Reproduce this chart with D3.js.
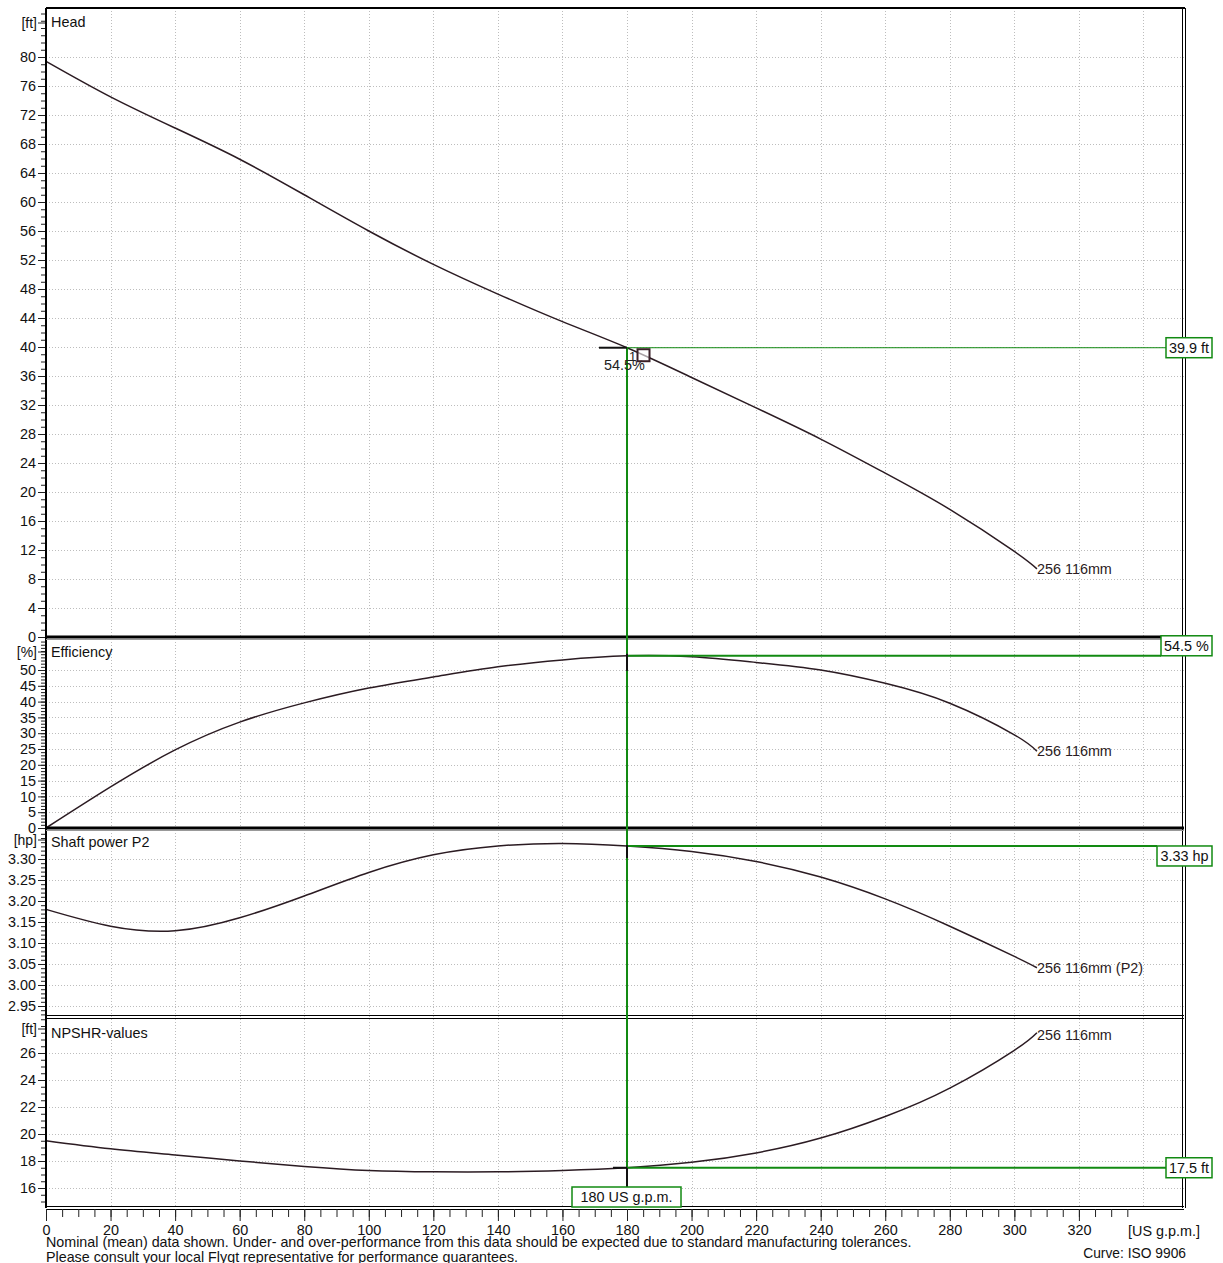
<!DOCTYPE html>
<html><head><meta charset="utf-8">
<script src="https://cdn.jsdelivr.net/npm/d3@7"></script>
<style>
body{margin:0;background:#fff;}
svg text{font-family:"Liberation Sans",Arial,sans-serif;}
</style></head>
<body>
<svg id="c" width="1223" height="1263"></svg>
<script>
// ---- data ----
const flow  = [0,20,40,60,80,100,120,140,160,180,200,220,240,260,280,300,307];
const head  = [79.4,74.5,70.2,65.9,61.0,56.0,51.4,47.3,43.5,39.9,35.8,31.6,27.3,22.6,17.6,11.8,9.4];
const eff   = [0,13,24.7,33.5,39.6,44.3,47.8,51,53.2,54.5,54.2,52.4,50,45.8,39.5,29.5,24.3];
const power = [3.18,3.140,3.129,3.160,3.212,3.268,3.310,3.331,3.337,3.331,3.318,3.294,3.257,3.205,3.140,3.068,3.041];
const npshr = [19.5,18.9,18.45,18.0,17.6,17.3,17.2,17.2,17.3,17.5,17.9,18.6,19.7,21.3,23.4,26.2,27.5];
const xTicks = [0,20,40,60,80,100,120,140,160,180,200,220,240,260,280,300,320];
const headTicks = d3.range(0,81,4);
const effTicks = d3.range(0,51,5);
const powerTicks = [2.95,3.00,3.05,3.10,3.15,3.20,3.25,3.30];
const npshrTicks = [16,18,20,22,24,26];
const dutyFlow = 180;
const curveName = "256 116mm";

const svg = d3.select("#c");
const W = 1223, H = 1263;
svg.append("rect").attr("width",W).attr("height",H).attr("fill","#fff");

const L = 46, R = 1184;
const x = d3.scaleLinear().domain([0,320]).range([46,1078.9]);
const CURVE = "#2b1b22", GREEN = "#128a12", GRID = "#bdbdbd";

const panels = [
  {name:"Head", unit:"[ft]", top:8, bottom:637, y:d3.scaleLinear().domain([0,40]).range([637,347]),
   data:head, ticks:headTicks, minor:d3.range(0,87,1), fmt:d=>d, unitY:28, titleY:27,
   label:curveName, box:v=>v.toFixed(1)+" ft"},
  {name:"Efficiency", unit:"[%]", top:639, bottom:828, y:d3.scaleLinear().domain([0,50]).range([828,670]),
   data:eff, ticks:effTicks, minor:d3.range(0,60,1), fmt:d=>d, unitY:657, titleY:657,
   label:curveName, box:v=>v.toFixed(1)+" %"},
  {name:"Shaft power P2", unit:"[hp]", top:830, bottom:1017, y:d3.scaleLinear().domain([2.95,3.30]).range([1006,859]),
   data:power, ticks:powerTicks, minor:d3.range(293,337,1).map(v=>v/100), fmt:d=>d.toFixed(2), unitY:845, titleY:847,
   label:curveName+" (P2)", box:v=>v.toFixed(2)+" hp"},
  {name:"NPSHR-values", unit:"[ft]", top:1019, bottom:1208, y:d3.scaleLinear().domain([16,26]).range([1188,1053]),
   data:npshr, ticks:npshrTicks, minor:d3.range(29,58,1).map(v=>v/2), fmt:d=>d, unitY:1034, titleY:1038,
   label:curveName, box:v=>v.toFixed(1)+" ft"}
];

const gridX = d3.range(0,341,20);
const line = d3.line().curve(d3.curveNatural);
const di = flow.indexOf(dutyFlow);

panels.forEach(p=>{
  const g = svg.append("g");
  g.selectAll(".gx").data(gridX.filter(v=>v>0)).join("line")
    .attr("x1",d=>Math.round(x(d))+0.5).attr("x2",d=>Math.round(x(d))+0.5).attr("y1",p.top).attr("y2",p.bottom)
    .attr("stroke",GRID).attr("stroke-dasharray","1,2").attr("stroke-width",1);
  g.selectAll(".gy").data(p.ticks).join("line")
    .attr("x1",L).attr("x2",R).attr("y1",d=>Math.round(p.y(d))+0.5).attr("y2",d=>Math.round(p.y(d))+0.5)
    .attr("stroke",GRID).attr("stroke-dasharray","1,2").attr("stroke-width",1);
  const minorAx = d3.axisLeft(p.y).tickValues(p.minor.filter(v=>p.y(v)>=p.top && p.y(v)<=p.bottom)).tickSize(5).tickFormat("");
  const ga = svg.append("g").attr("transform",`translate(${L},0)`).call(minorAx);
  ga.select(".domain").remove();
  ga.selectAll("line").attr("stroke","#222");
  const majorAx = d3.axisLeft(p.y).tickValues(p.ticks).tickSize(8).tickPadding(2).tickFormat(p.fmt);
  const gm = svg.append("g").attr("transform",`translate(${L},0)`).call(majorAx);
  gm.select(".domain").remove();
  gm.selectAll("line").attr("stroke","#222");
  gm.selectAll("text").attr("font-size",14.4).attr("fill","#111").attr("font-family","Liberation Sans, Arial, sans-serif");
  svg.append("text").attr("x",37).attr("y",p.unitY).attr("text-anchor","end").attr("font-size",14).attr("fill","#111").text(p.unit);
  svg.append("line").attr("x1",38).attr("x2",46).attr("y1",p.unitY-5).attr("y2",p.unitY-5).attr("stroke","#222");
  svg.append("text").attr("x",51).attr("y",p.titleY).attr("font-size",14.4).attr("fill","#111").text(p.name);
  const pts = flow.map((f,i)=>[x(f),p.y(p.data[i])]);
  svg.append("path").attr("d",line(pts)).attr("fill","none").attr("stroke",CURVE).attr("stroke-width",1.5);
  const last = pts[pts.length-1];
  svg.append("text").attr("x",last[0]).attr("y",last[1]+(p.name==="NPSHR-values"?7:5)).attr("font-size",14.4).attr("fill","#2b1b22").text(p.label);
});

// frames
svg.append("line").attr("x1",L).attr("x2",L).attr("y1",8).attr("y2",1208).attr("stroke","#000").attr("stroke-width",2);
svg.append("line").attr("x1",L).attr("x2",R+1).attr("y1",8).attr("y2",8).attr("stroke","#000").attr("stroke-width",2);
svg.append("line").attr("x1",R-1.5).attr("x2",R-1.5).attr("y1",8).attr("y2",1208).attr("stroke","#000").attr("stroke-width",1);
svg.append("line").attr("x1",R+1.5).attr("x2",R+1.5).attr("y1",8).attr("y2",1208).attr("stroke","#000").attr("stroke-width",1);
[637,828].forEach(yv=>{
  svg.append("line").attr("x1",L).attr("x2",R).attr("y1",yv).attr("y2",yv).attr("stroke","#000").attr("stroke-width",3);
  svg.append("line").attr("x1",L).attr("x2",R).attr("y1",yv+2.5).attr("y2",yv+2.5).attr("stroke","#999").attr("stroke-width",1);
});
[1017,1208].forEach(yv=>{
  svg.append("line").attr("x1",L).attr("x2",R).attr("y1",yv-1.5).attr("y2",yv-1.5).attr("stroke","#000").attr("stroke-width",1.2);
  svg.append("line").attr("x1",L).attr("x2",R).attr("y1",yv+1.5).attr("y2",yv+1.5).attr("stroke","#000").attr("stroke-width",1.2);
});

// x axis
const xMinor = d3.axisBottom(x).tickValues(d3.range(0,336,5)).tickSize(8).tickFormat("");
const gxm = svg.append("g").attr("transform","translate(0,1209)").call(xMinor);
gxm.select(".domain").remove(); gxm.selectAll("line").attr("stroke","#222");
const xMajor = d3.axisBottom(x).tickValues(xTicks).tickSize(12).tickPadding(4).tickFormat(d=>d);
const gxM = svg.append("g").attr("transform","translate(0,1209)").call(xMajor);
gxM.select(".domain").remove(); gxM.selectAll("line").attr("stroke","#222");
gxM.selectAll("text").attr("font-size",14.4).attr("fill","#111").attr("font-family","Liberation Sans, Arial, sans-serif");
svg.append("text").attr("x",1128).attr("y",1236).attr("font-size",14.4).attr("fill","#111").text("[US g.p.m.]");

// duty point
const xd = x(dutyFlow);
const yH = panels[0].y(head[di]), yE = panels[1].y(eff[di]), yP = panels[2].y(power[di]), yN = panels[3].y(npshr[di]);
svg.append("line").attr("x1",xd).attr("x2",xd).attr("y1",yH).attr("y2",1187).attr("stroke",GREEN).attr("stroke-width",2);
svg.append("line").attr("x1",xd).attr("x2",1166).attr("y1",yH).attr("y2",yH).attr("stroke",GREEN).attr("stroke-width",1);
svg.append("line").attr("x1",xd).attr("x2",1161).attr("y1",yE).attr("y2",yE).attr("stroke",GREEN).attr("stroke-width",2);
svg.append("line").attr("x1",xd).attr("x2",1157).attr("y1",yP).attr("y2",yP).attr("stroke",GREEN).attr("stroke-width",2);
svg.append("line").attr("x1",xd).attr("x2",1166).attr("y1",yN).attr("y2",yN).attr("stroke",GREEN).attr("stroke-width",2);
svg.append("line").attr("x1",xd-28).attr("x2",xd).attr("y1",yH).attr("y2",yH).attr("stroke","#111").attr("stroke-width",2);
svg.append("line").attr("x1",xd).attr("x2",xd).attr("y1",yE-2).attr("y2",yE+15).attr("stroke","#111").attr("stroke-width",2);
svg.append("line").attr("x1",xd).attr("x2",xd).attr("y1",yP-1).attr("y2",yP+12).attr("stroke","#111").attr("stroke-width",2);
svg.append("line").attr("x1",xd).attr("x2",xd).attr("y1",yN).attr("y2",yN+19).attr("stroke","#111").attr("stroke-width",2);
svg.append("line").attr("x1",xd-14).attr("x2",xd).attr("y1",yN).attr("y2",yN).attr("stroke","#111").attr("stroke-width",2);
svg.append("text").attr("x",xd+2).attr("y",yH+13).attr("font-size",13).attr("fill","#222").text("1");
svg.append("text").attr("x",xd-23).attr("y",yH+22).attr("font-size",14.4).attr("fill","#222").text(eff[di].toFixed(1)+"%");
svg.append("rect").attr("x",xd+10.5).attr("y",yH+1.5).attr("width",12).attr("height",12).attr("fill","#fff").attr("fill-opacity",0.6).attr("stroke","#3a2028").attr("stroke-width",2);

function box(x0,y0,w,h,txt){
  svg.append("rect").attr("x",x0).attr("y",y0).attr("width",w).attr("height",h).attr("fill","#fff").attr("stroke",GREEN).attr("stroke-width",1.5);
  svg.append("text").attr("x",x0+w/2).attr("y",y0+h/2+5).attr("text-anchor","middle").attr("font-size",14.4).attr("fill","#111").text(txt);
}
box(1166,yH-10,46,20,panels[0].box(head[di]));
box(1161,yE-20,51,20,panels[1].box(eff[di]));
box(1157,yP,55,20,panels[2].box(power[di]));
box(1166,yN-10,46,20,panels[3].box(npshr[di]));
box(xd-55,1187,109,20,dutyFlow+" US g.p.m.");

// footer
svg.append("text").attr("x",46).attr("y",1247).attr("font-size",14.3).attr("fill","#111")
  .text("Nominal (mean) data shown. Under- and over-performance from this data should be expected due to standard manufacturing tolerances.");
svg.append("text").attr("x",46).attr("y",1262).attr("font-size",14.3).attr("fill","#111")
  .text("Please consult your local Flygt representative for performance guarantees.");
svg.append("text").attr("x",1186).attr("y",1258).attr("text-anchor","end").attr("font-size",13.8).attr("fill","#111")
  .attr("font-family","DejaVu Sans, sans-serif").text("Curve: ISO 9906");
</script>
</body></html>
